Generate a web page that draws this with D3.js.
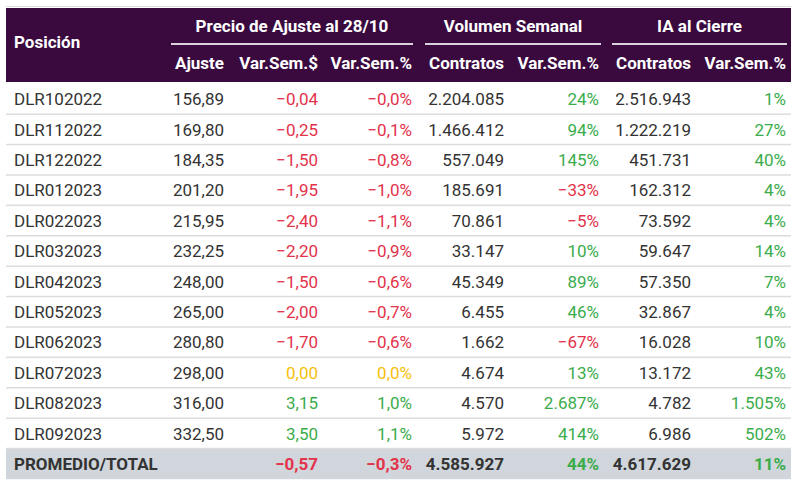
<!DOCTYPE html>
<html>
<head>
<meta charset="utf-8">
<script src="https://cdn.jsdelivr.net/npm/d3@7"></script>
<style>
  body { margin: 0; background: #fff; }
  svg text { font-family: Roboto, "Noto Sans", sans-serif; }
</style>
</head>
<body>
<div class="graph"></div>
<script>
// table data
const posiciones = ["DLR102022", "DLR112022", "DLR122022", "DLR012023", "DLR022023", "DLR032023",
    "DLR042023", "DLR052023", "DLR062023", "DLR072023", "DLR082023", "DLR092023"];
const ajuste = [156.89, 169.80, 184.35, 201.20, 215.95, 232.25, 248.00, 265.00, 280.80, 298.00, 316.00, 332.50];
const varSemPesos = [-0.04, -0.25, -1.50, -1.95, -2.40, -2.20, -1.50, -2.00, -1.70, 0.00, 3.15, 3.50];
const varSemPct = [-0.03, -0.1, -0.8, -1.0, -1.1, -0.9, -0.6, -0.7, -0.6, 0.0, 1.0, 1.1];
const volContratos = [2204085, 1466412, 557049, 185691, 70861, 33147, 45349, 6455, 1662, 4674, 4570, 5972];
const volVarPct = [24, 94, 145, -33, -5, 10, 89, 46, -67, 13, 2687, 414];
const iaContratos = [2516943, 1222219, 451731, 162312, 73592, 59647, 57350, 32867, 16028, 13172, 4782, 6986];
const iaVarPct = [1, 27, 40, 4, 4, 14, 7, 4, 10, 43, 1505, 502];
const totalLabel = "PROMEDIO/TOTAL";
const total = { varSemPesos: -0.57, varSemPct: -0.3, volContratos: 4585927, volVarPct: 44, iaContratos: 4617629, iaVarPct: 11 };

const groupLabels = ["Precio de Ajuste al 28/10", "Volumen Semanal", "IA al Cierre"];
const subLabels = ["Ajuste", "Var.Sem.$", "Var.Sem.%", "Contratos", "Var.Sem.%", "Contratos", "Var.Sem.%"];

const W = 800, H = 487;
const left = 6, right = 791;
const headTop = 8, headBottom = 82, bodyTop = 84, rowH = 30.4;
const fontSize = 17;
// right edges of the numeric columns
const colRight = [224, 318, 412, 504, 599, 691, 786];
const groups = [[171, 413], [425, 601], [612, 787]];

const colors = { red: "#e2334b", green: "#3bac4b", yellow: "#f5bf0c", text: "#333", purple: "#3a0a3f" };

// es-AR style number formatting, keeping the minus sign on values that round to zero
const locale = d3.formatLocale({ decimal: ",", thousands: ".", grouping: [3], currency: ["$", ""] });
const signed = fmt => v => (v < 0 ? "\u2212" : "") + fmt(Math.abs(v));
const f2 = signed(locale.format(",.2f")), f1 = signed(locale.format(".1f")), fInt = signed(locale.format(",d"));
const signColor = v => v < 0 ? colors.red : v > 0 ? colors.green : colors.yellow;

const svg = d3.select(".graph").append("svg")
    .attr("width", W)
    .attr("height", H);

const rowKeys = posiciones.concat([totalLabel]);
const y = d3.scaleBand().domain(rowKeys).range([bodyTop, bodyTop + rowKeys.length * rowH]);

// header
svg.append("rect").attr("x", left).attr("y", headTop - 2).attr("width", right - left).attr("height", 1)
    .attr("fill", "#ddd");
svg.append("rect").attr("x", left).attr("y", headTop).attr("width", right - left).attr("height", headBottom - headTop)
    .attr("fill", colors.purple);

svg.append("text").attr("x", 14).attr("y", 42).attr("dy", "0.35em")
    .attr("fill", "#fff").attr("font-weight", "bold").attr("font-size", fontSize)
    .text("Posición");

svg.selectAll(".group-label").data(groupLabels).enter().append("text")
    .attr("class", "group-label")
    .attr("x", (d, i) => (groups[i][0] + groups[i][1]) / 2)
    .attr("y", 26).attr("dy", "0.35em")
    .attr("text-anchor", "middle")
    .attr("fill", "#fff").attr("font-weight", "bold").attr("font-size", fontSize)
    .text(d => d);

svg.selectAll(".group-line").data(groups).enter().append("rect")
    .attr("class", "group-line")
    .attr("x", d => d[0]).attr("y", 43)
    .attr("width", d => d[1] - d[0]).attr("height", 2)
    .attr("fill", "#d9d2dc");

svg.selectAll(".sub-label").data(subLabels).enter().append("text")
    .attr("class", "sub-label")
    .attr("x", (d, i) => colRight[i])
    .attr("y", 63).attr("dy", "0.35em")
    .attr("text-anchor", "end")
    .attr("fill", "#fff").attr("font-weight", "bold").attr("font-size", fontSize)
    .text(d => d);

// footer background
svg.append("rect").attr("x", left).attr("y", y(totalLabel)).attr("width", right - left).attr("height", y.bandwidth())
    .attr("fill", "#d0d6db");

// row separators
svg.selectAll(".sep").data(posiciones).enter().append("rect")
    .attr("class", "sep")
    .attr("x", left).attr("y", d => y(d) + y.bandwidth() - 1)
    .attr("width", right - left).attr("height", 1.5)
    .attr("fill", "#dcdcdc");

// body rows
const rows = posiciones.map((p, i) => ({
    pos: p,
    cells: [
        { t: f2(ajuste[i]), c: colors.text },
        { t: f2(varSemPesos[i]), c: signColor(varSemPesos[i]) },
        { t: f1(varSemPct[i]) + "%", c: signColor(varSemPct[i]) },
        { t: fInt(volContratos[i]), c: colors.text },
        { t: fInt(volVarPct[i]) + "%", c: signColor(volVarPct[i]) },
        { t: fInt(iaContratos[i]), c: colors.text },
        { t: fInt(iaVarPct[i]) + "%", c: signColor(iaVarPct[i]) }
    ],
    bold: false
}));
rows.push({
    pos: totalLabel,
    cells: [
        { t: "", c: colors.text },
        { t: f2(total.varSemPesos), c: signColor(total.varSemPesos) },
        { t: f1(total.varSemPct) + "%", c: signColor(total.varSemPct) },
        { t: fInt(total.volContratos), c: colors.text },
        { t: fInt(total.volVarPct) + "%", c: signColor(total.volVarPct) },
        { t: fInt(total.iaContratos), c: colors.text },
        { t: fInt(total.iaVarPct) + "%", c: signColor(total.iaVarPct) }
    ],
    bold: true
});

const row = svg.selectAll(".row").data(rows).enter().append("g")
    .attr("class", "row")
    .attr("transform", d => `translate(0,${y(d.pos) + y.bandwidth() / 2})`);

row.append("text")
    .attr("x", 14).attr("dy", "0.35em")
    .attr("font-size", fontSize)
    .attr("font-weight", d => d.bold ? "bold" : "normal")
    .attr("fill", colors.text)
    .text(d => d.pos);

row.selectAll(".cell").data(d => d.cells.map(c => ({ ...c, bold: d.bold }))).enter().append("text")
    .attr("class", "cell")
    .attr("x", (d, i) => colRight[i])
    .attr("dy", "0.35em")
    .attr("text-anchor", "end")
    .attr("font-size", fontSize)
    .attr("font-weight", d => d.bold ? "bold" : "normal")
    .attr("fill", d => d.c)
    .text(d => d.t);
</script>
</body>
</html>
